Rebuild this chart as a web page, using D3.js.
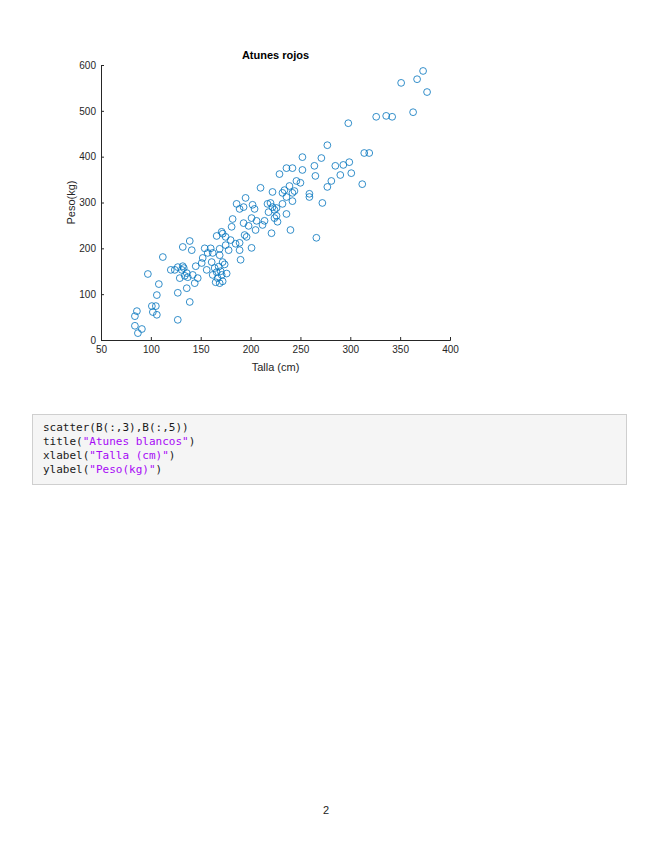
<!DOCTYPE html>
<html>
<head>
<meta charset="utf-8">
<script src="https://cdn.jsdelivr.net/npm/d3@7"></script>
<style>
  body { margin: 0; background: #fff; }
  svg { display: block; }
</style>
</head>
<body>
<svg id="page"></svg>
<script>
// talla (cm) / peso (kg)
const talla = [
  84, 86, 84, 91, 87, 97, 101, 105, 102, 106, 106, 108, 112, 127, 127, 136, 139, 120, 127, 129,
  133, 136, 137, 134, 142, 144, 147, 145, 152, 156, 151, 161, 162, 164, 167, 169, 171, 172, 169, 132,
  139, 141, 124, 131, 132, 165, 172, 168, 170, 166, 174, 176,
  154, 162, 169, 166, 171, 175, 178, 181, 182, 175, 180, 189, 190, 189, 193, 194, 201, 198, 201, 205,
  186, 189, 195, 204, 212, 218, 220, 210, 221, 224, 226, 227, 232, 236, 234, 229, 236, 242, 239, 242,
  246, 236, 240, 214, 206, 222, 226, 217, 202, 222, 232, 244, 259, 242, 224, 160, 157, 172, 185, 196,
  193,
  373, 367, 351, 377, 363, 326, 336, 342, 298, 277, 314, 319, 252, 271, 252, 264, 285, 293, 299, 265,
  290, 301, 250, 281, 277, 312, 259, 272, 266
]
const peso = [
  52, 63, 31, 24, 15, 144, 74, 74, 61, 55, 98, 122, 181, 44, 103, 113, 83, 153, 159, 135,
  157, 146, 137, 140, 142, 124, 135, 161, 179, 153, 168, 170, 142, 157, 135, 124, 142, 170, 185, 203,
  216, 196, 153, 153, 161, 126, 128, 160, 150, 148, 165, 145,
  200, 190, 199, 227, 236, 225, 196, 247, 264, 207, 218, 196, 175, 212, 255, 229, 201, 249, 266, 240,
  297, 286, 310, 286, 251, 279, 299, 332, 233, 284, 271, 258, 297, 312, 327, 362, 375, 375, 336, 321,
  347, 275, 240, 260, 260, 290, 288, 297, 295, 323, 321, 325, 312, 303, 266, 200, 190, 232, 210, 225,
  290,
  587, 569, 561, 541, 497, 487, 489, 487, 473, 425, 408, 408, 399, 397, 371, 380, 380, 382, 388, 358,
  360, 364, 343, 347, 334, 340, 319, 299, 223
]
const xTicks = [50, 100, 150, 200, 250, 300, 350, 400]
const yTicks = [0, 100, 200, 300, 400, 500, 600]
const codeLines = [
  [['scatter(B(:,3),B(:,5))', 'c']],
  [['title(', 'c'], ['"Atunes blancos"', 's'], [')', 'c']],
  [['xlabel(', 'c'], ['"Talla (cm)"', 's'], [')', 'c']],
  [['ylabel(', 'c'], ['"Peso(kg)"', 's'], [')', 'c']]
]

const W = 655, H = 848
const margin = { top: 65, left: 101 }
const pw = 349, ph = 275
const axisColor = '#262626'

const svg = d3.select('#page').attr('width', W).attr('height', H)

const chart = svg.append('g')
  .attr('transform', `translate(${margin.left},${margin.top})`)

const x = d3.scaleLinear().domain([50, 400]).range([0, pw])
const y = d3.scaleLinear().domain([0, 600]).range([ph, 0])

const xAxis = d3.axisBottom(x).tickValues(xTicks).tickSize(-3).tickPadding(6)
const yAxis = d3.axisLeft(y).tickValues(yTicks).tickSize(-3).tickPadding(5)

const gx = chart.append('g')
  .attr('transform', `translate(0,${ph})`)
  .call(xAxis)
const gy = chart.append('g').call(yAxis)

for (const g of [gx, gy]) {
  g.select('.domain').attr('stroke', axisColor).attr('stroke-width', 1)
  g.selectAll('.tick line').attr('stroke', axisColor)
  g.selectAll('.tick text')
    .attr('fill', axisColor)
    .style('font-family', 'Liberation Sans, Arial, sans-serif')
    .style('font-size', '10px')
}

const pts = talla.map((t, i) => ({ t, p: peso[i] }))
chart.append('g')
  .selectAll('circle')
  .data(pts)
  .join('circle')
  .attr('cx', d => x(d.t))
  .attr('cy', d => y(d.p))
  .attr('r', 3.4)
  .attr('fill', 'none')
  .attr('stroke', '#0072BD')
  .attr('stroke-width', 0.8)

chart.append('text')
  .attr('x', pw / 2)
  .attr('y', -6)
  .attr('text-anchor', 'middle')
  .style('font-family', 'Liberation Sans, Arial, sans-serif')
  .style('font-size', '11px')
  .style('font-weight', 'bold')
  .attr('fill', '#000')
  .text('Atunes rojos')

chart.append('text')
  .attr('x', pw / 2)
  .attr('y', ph + 31)
  .attr('text-anchor', 'middle')
  .style('font-family', 'Liberation Sans, Arial, sans-serif')
  .style('font-size', '11px')
  .attr('fill', axisColor)
  .text('Talla (cm)')

chart.append('text')
  .attr('transform', `translate(-26,${ph / 2}) rotate(-90)`)
  .attr('text-anchor', 'middle')
  .style('font-family', 'Liberation Sans, Arial, sans-serif')
  .style('font-size', '11px')
  .attr('fill', axisColor)
  .text('Peso(kg)')

// code block
const code = svg.append('g')
code.append('rect')
  .attr('x', 32.5).attr('y', 414.5)
  .attr('width', 594).attr('height', 70)
  .attr('fill', '#f5f5f5')
  .attr('stroke', '#cfcfcf')

codeLines.forEach((line, i) => {
  const t = code.append('text')
    .attr('x', 43)
    .attr('y', 431 + i * 14)
    .style('font-family', 'DejaVu Sans Mono, monospace')
    .style('font-size', '11px')
  line.forEach(([s, kind]) => {
    t.append('tspan')
      .attr('fill', kind === 's' ? '#a709f5' : '#1a1a1a')
      .text(s)
  })
})

svg.append('text')
  .attr('x', 326)
  .attr('y', 814)
  .attr('text-anchor', 'middle')
  .style('font-family', 'Liberation Sans, Arial, sans-serif')
  .style('font-size', '11px')
  .attr('fill', '#222')
  .text('2')
</script>
</body>
</html>
